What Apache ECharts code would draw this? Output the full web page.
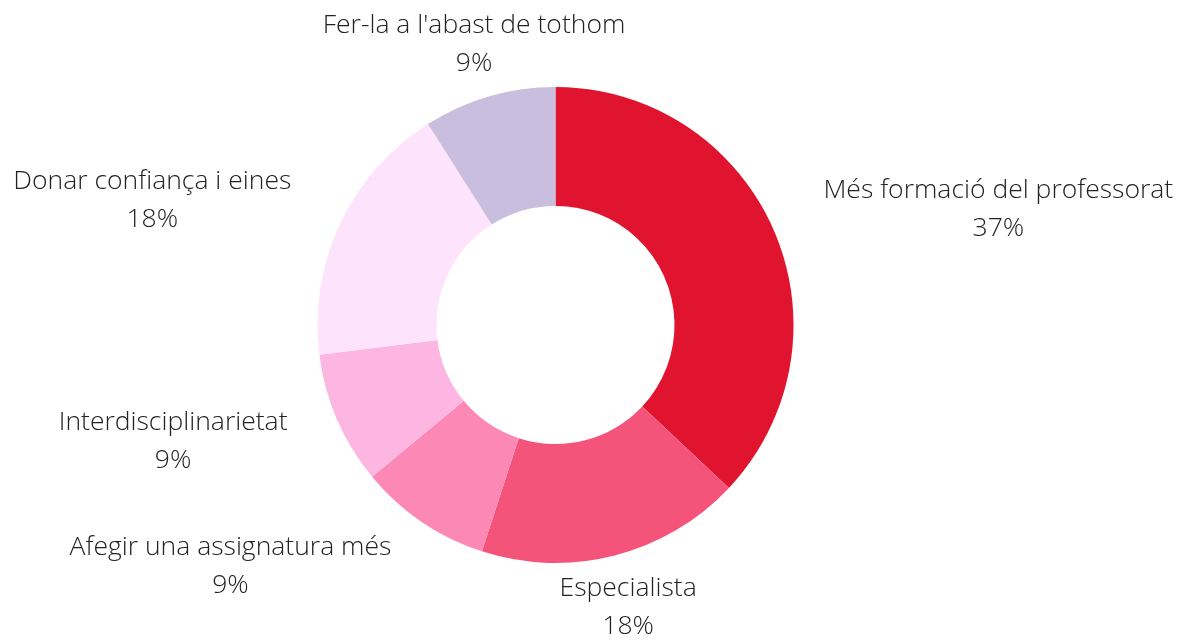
<!DOCTYPE html>
<html>
<head>
<meta charset="utf-8">
<script src="https://cdn.jsdelivr.net/npm/echarts@6/dist/echarts.min.js"></script>
<style>
	html, body { margin: 0; padding: 0; background: #fff; }
	#chart { width: 1189px; height: 642px; }
</style>
</head>
<body>
<div id="chart"></div>
<script>
const categories = [
	'Més formació del professorat',
	'Especialista',
	'Afegir una assignatura més',
	'Interdisciplinarietat',
	'Donar confiança i eines',
	'Fer-la a l\'abast de tothom'
];
const values = [ 37, 18, 9, 9, 18, 9 ];
const sliceColors = [ '#e0142f', '#f5547a', '#fc88b5', '#fdb5e1', '#fee3fd', '#c9bedd' ];

const total = values.reduce( ( a, b ) => a + b, 0 );

// mid angle of each slice, degrees clockwise from 12 o'clock
const midAngles = [];
let acc = 0;
values.forEach( ( v ) => {
	midAngles.push( ( acc + v / 2 ) / total * 360 );
	acc += v;
} );

const chart = echarts.init( document.getElementById( 'chart' ) );

chart.setOption( {
	animation: false,
	series: [ {
		type: 'pie',
		center: [ 555.5, 325 ],
		radius: [ 119, 238 ],
		startAngle: 90,
		clockwise: true,
		avoidLabelOverlap: false,
		percentPrecision: 0,
		data: categories.map( ( name, i ) => ( {
			name: name,
			value: values[ i ],
			itemStyle: { color: sliceColors[ i ] }
		} ) ),
		label: {
			position: 'outside',
			formatter: '{b}\n{d}%',
			fontFamily: 'Open Sans',
			fontWeight: 300,
			fontSize: 26.5,
			lineHeight: 38,
			color: '#222',
			distanceToLabelLine: 0
		},
		labelLine: { show: false, length: 54, length2: 0 },
		labelLayout: function ( params ) {
			const r = params.labelRect;
			const ax = params.align === 'right' ? r.x + r.width : r.x;
			const ay = r.y + r.height / 2;
			const a = midAngles[ params.dataIndex ];
			// labels near top / bottom sit centred on their anchor
			const nearVertical = Math.abs( Math.sin( a * Math.PI / 180 ) ) < 0.45;
			let x = ax;
			if ( !nearVertical ) {
				x = params.align === 'right' ? ax - r.width / 2 : ax + r.width / 2;
			}
			return { x: x, y: ay, align: 'center', verticalAlign: 'middle' };
		},
		emphasis: { disabled: true }
	} ]
} );
</script>
</body>
</html>
